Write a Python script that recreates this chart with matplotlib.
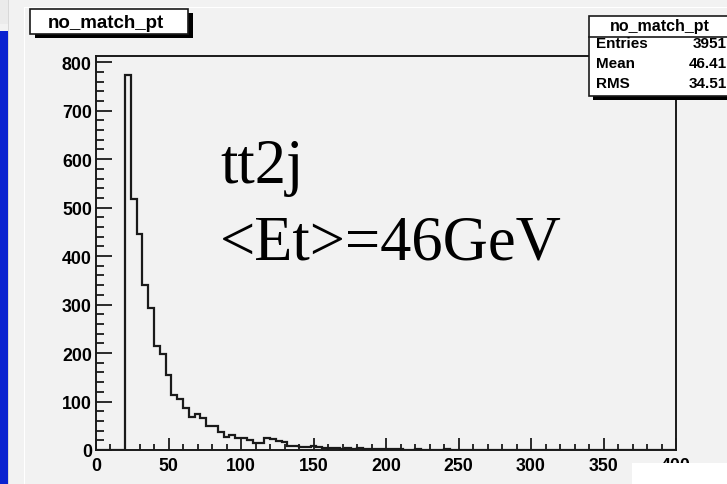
import numpy as np
import matplotlib
matplotlib.use('Agg')
import matplotlib.pyplot as plt
from matplotlib.patches import Rectangle

# histogram no_match_pt : 100 bins of 4 GeV from 0 to 400
edges = np.arange(0, 404, 4)
counts = [0, 0, 0, 0, 0,
          774, 517, 445, 340, 292, 215, 198, 155, 113, 105,
          86, 69, 74, 66, 49, 50, 38, 26, 31, 25,
          24, 20, 15, 15, 24, 22, 18, 16, 9, 9,
          6, 6, 8, 6, 5, 4, 4, 3, 4, 2,
          4, 2, 3, 3, 3,
          2, 3, 2, 1, 1, 2, 1, 1, 0, 1,
          2, 1, 1, 1, 0, 1, 1, 0, 1, 1,
          0, 1, 0, 1, 1, 0, 1, 0, 0, 1,
          0, 1, 0, 0, 1, 0, 0, 1, 0, 0,
          1, 0, 0, 0, 1, 0, 0, 0, 1, 0]
counts = np.array(counts)

hname = 'no_match_pt'
stat_names = ['Entries', 'Mean', 'RMS']
stat_vals = ['3951', '46.41', '34.51']
label1 = 'tt2j'
label2 = '<Et>=46GeV'

W, H = 727, 485
bg = '#f2f2f2'
sans = 'Liberation Sans'
serif = 'Liberation Serif'

fig = plt.figure(figsize=(W/100, H/100), dpi=100)
fig.patch.set_facecolor(bg)

def px(x0, y0, w, h, **kw):
    # rectangle in pixel coords, y measured from the top
    r = Rectangle((x0/W, 1-(y0+h)/H), w/W, h/H, transform=fig.transFigure, **kw)
    fig.add_artist(r)
    return r

# side strip and canvas border
px(0, 0, 8, 25, facecolor='#ebebeb', edgecolor='none', zorder=1)
px(0, 32, 8, H-32, facecolor='#0a22d0', edgecolor='none', zorder=1)
px(8, 0, 1, H, facecolor='#d8d8d8', edgecolor='none', zorder=1)
px(24, 8, 1, H-8, facecolor='white', edgecolor='none', zorder=1)
px(24, 8, W-24, 1, facecolor='white', edgecolor='none', zorder=1)

ax = fig.add_axes([96/W, 1-451/H, 580/W, (451-57)/H])
ax.set_facecolor(bg)
ax.stairs(counts, edges, color='#1a1a1a', linewidth=1.6)
ax.set_xlim(0, 400)
ax.set_ylim(0, counts.max()*1.05)

ax.set_xticks(np.arange(0, 401, 50))
ax.set_xticks(np.arange(0, 401, 10), minor=True)
ax.set_yticks(np.arange(0, 801, 100))
ax.set_yticks(np.arange(0, 801, 20), minor=True)
ax.tick_params(axis='both', which='both', direction='in', top=False, right=False,
               color='#1a1a1a', width=1.3)
ax.tick_params(axis='y', which='major', length=11.5, pad=3)
ax.tick_params(axis='y', which='minor', length=5.8)
ax.tick_params(axis='x', which='major', length=8.6, pad=5)
ax.tick_params(axis='x', which='minor', length=4.3)
for lab in ax.get_xticklabels() + ax.get_yticklabels():
    lab.set_fontfamily(sans)
    lab.set_fontweight('bold')
    lab.set_fontsize(12.8)
for s in ax.spines.values():
    s.set_color('#1a1a1a')
    s.set_linewidth(1.4)

# title box with shadow
px(35, 14, 158, 25, facecolor='black', edgecolor='none', zorder=3)
px(30, 10, 158, 25, facecolor='white', edgecolor='#1a1a1a', linewidth=1.2, zorder=4)
fig.text(106/W, 1-23/H, hname, fontfamily=sans, fontweight='bold', fontsize=13.5,
         ha='center', va='center', zorder=5)

# stats box
px(593, 20, 150, 81, facecolor='black', edgecolor='none', zorder=3)
px(589, 17, 150, 80, facecolor='white', edgecolor='#1a1a1a', linewidth=1.2, zorder=4)
fig.add_artist(plt.Line2D([589/W, 1], [1-37.7/H, 1-37.7/H], transform=fig.transFigure,
                          color='#1a1a1a', linewidth=1.2, zorder=5))
fig.text(660/W, 1-26/H, hname, fontfamily=sans, fontweight='bold', fontsize=11.5,
         ha='center', va='center', zorder=5)
for i, (n, v) in enumerate(zip(stat_names, stat_vals)):
    y = 1-(44.5+19.5*i)/H
    fig.text(596/W, y, n, fontfamily=sans, fontweight='bold', fontsize=11,
             ha='left', va='center', zorder=5)
    fig.text(726.5/W, y, v, fontfamily=sans, fontweight='bold', fontsize=11,
             ha='right', va='center', zorder=5)

# big labels
fig.text(220/W, 1-183.3/H, label1, fontfamily=serif, fontsize=45, va='baseline', zorder=5)
fig.text(220/W, 1-259.3/H, label2, fontfamily=serif, fontsize=45, va='baseline', zorder=5)

# white patch in the lower right corner
px(632, 464, W-632, H-464, facecolor='white', edgecolor='none', zorder=10)

fig.savefig('out.png', dpi=100, facecolor=fig.get_facecolor())
